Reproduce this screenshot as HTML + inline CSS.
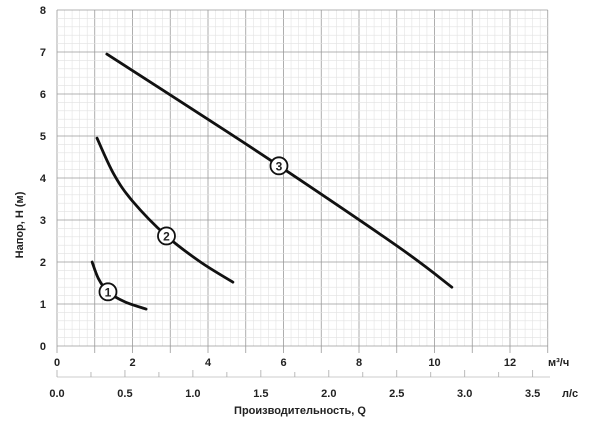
<!DOCTYPE html>
<html><head><meta charset="utf-8"><style>
body{margin:0;background:#fff}
svg{display:block;font-family:"Liberation Sans",Arial,sans-serif}
text{font-weight:bold;fill:#222}
</style></head><body>
<svg id="chart" width="600" height="426" viewBox="0 0 600 426">
<g id="grid"></g>
<g id="axes"></g>
<g id="curves"></g>
<text x="300" y="414" text-anchor="middle" font-size="11">Производительность, Q</text>
<text transform="translate(23,225) rotate(-90)" text-anchor="middle" font-size="11">Напор, Н (м)</text>
<text x="548" y="366" font-size="11">м³/ч</text>
<text x="562" y="397" font-size="11">л/с</text>
</svg>
<script>
const xTicks=[0,2,4,6,8,10,12];
const yTicks=[0,1,2,3,4,5,6,7,8];
const lsTicks=["0.0","0.5","1.0","1.5","2.0","2.5","3.0","3.5"];
const curve1X=[0.93,1.1,1.35,1.8,2.36];
const curve1Y=[2.0,1.6,1.29,1.05,0.88];
const curve2X=[1.06,1.5,2.0,2.9,3.8,4.66];
const curve2Y=[4.95,4.1,3.45,2.62,2.0,1.52];
const curve3X=[1.32,3.6,5.88,9.09,10.46];
const curve3Y=[6.95,5.63,4.29,2.33,1.4];
const labels=["1","2","3"];
const labelX=[1.35,2.9,5.88];
const labelY=[1.29,2.62,4.29];

const X0=57,PX=37.75,Y0=346,PY=42,XMAX=13,YMAX=8;
const sx=v=>X0+v*PX, sy=v=>Y0-v*PY, sls=v=>X0+v*3.6*PX;
const NS="http://www.w3.org/2000/svg";
function mk(tag,attrs,parent){const e=document.createElementNS(NS,tag);for(const k in attrs)e.setAttribute(k,attrs[k]);parent.appendChild(e);return e;}
const grid=document.getElementById('grid'),axes=document.getElementById('axes'),curves=document.getElementById('curves');
for(let i=0;i<=XMAX*5;i++){const l=mk('line',{x1:sx(i/5),x2:sx(i/5),y1:sy(0),y2:sy(YMAX),stroke:i%5?'#e2e2e2':'#9a9a9a','stroke-width':i%5?0.6:0.8},grid);

}
for(let i=0;i<=YMAX*5;i++){const l=mk('line',{x1:sx(0),x2:sx(XMAX),y1:sy(i/5),y2:sy(i/5),stroke:i%5?'#e2e2e2':'#9a9a9a','stroke-width':i%5?0.6:0.8},grid);

}
for(let i=0;i<=XMAX;i++){const l=mk('line',{x1:sx(i),x2:sx(i),y1:sy(0),y2:sy(0)+7,stroke:'#999','stroke-width':0.8},axes);

}
xTicks.forEach(v=>{const t=mk('text',{x:sx(v),y:366,'text-anchor':'middle','font-size':11},axes);t.textContent=v;

});
yTicks.forEach(v=>{const t=mk('text',{x:46,y:sy(v)+4,'text-anchor':'end','font-size':11},axes);t.textContent=v;

});
const al=mk('line',{x1:sx(0),x2:550,y1:377,y2:377,stroke:'#bbb','stroke-width':0.8},axes);


for(let i=0;i<=14;i++){const v=i*0.25;const l=mk('line',{x1:sls(v),x2:sls(v),y1:377,y2:i%2?372:370,stroke:'#aaa','stroke-width':0.8},axes);

}
lsTicks.forEach(s=>{const t=mk('text',{x:sls(parseFloat(s)),y:397,'text-anchor':'middle','font-size':11},axes);t.textContent=s;

});
function path(xs,ys){let d='M'+sx(xs[0])+','+sy(ys[0]);for(let i=1;i<xs.length;i++){const p0=[sx(xs[i-1]),sy(ys[i-1])],p1=[sx(xs[i]),sy(ys[i])];const pm=i>1?[sx(xs[i-2]),sy(ys[i-2])]:p0;const pn=i<xs.length-1?[sx(xs[i+1]),sy(ys[i+1])]:p1;
d+=' C'+(p0[0]+(p1[0]-pm[0])/6)+','+(p0[1]+(p1[1]-pm[1])/6)+' '+(p1[0]-(pn[0]-p0[0])/6)+','+(p1[1]-(pn[1]-p0[1])/6)+' '+p1[0]+','+p1[1];}return d;}
[[curve1X,curve1Y],[curve2X,curve2Y],[curve3X,curve3Y]].forEach((c,i)=>{const p=mk('path',{d:path(c[0],c[1]),fill:'none',stroke:'#111','stroke-width':2.8,'stroke-linecap':'round'},curves);

});
labels.forEach((s,i)=>{const c=mk('circle',{cx:sx(labelX[i]),cy:sy(labelY[i]),r:8.5,fill:'#fff',stroke:'#111','stroke-width':1.8},curves);


const t=mk('text',{x:sx(labelX[i]),y:sy(labelY[i])+4.5,'text-anchor':'middle','font-size':12},curves);t.textContent=s;

});
</script>
</body></html>
